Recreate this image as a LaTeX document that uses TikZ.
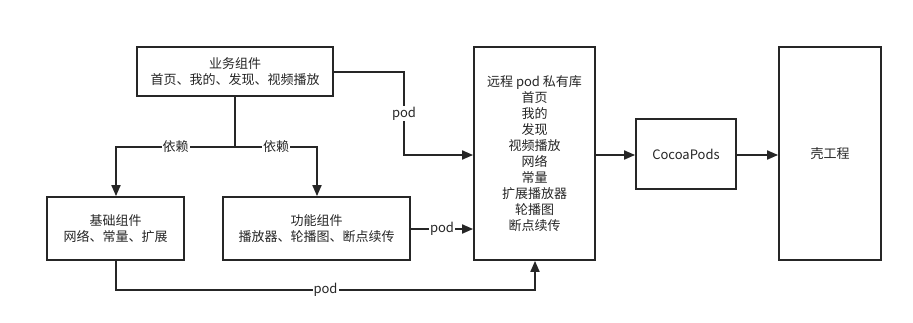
\documentclass[tikz,border=0pt]{standalone}
\usepackage{fontspec}
\setmainfont{Noto Sans CJK SC}
\usetikzlibrary{arrows.meta}
\begin{document}
\begin{tikzpicture}[x=1pt,y=-1pt,
  box/.style={draw=black!85,line width=1.8pt,fill=white,inner sep=0pt,align=center,font=\fontsize{13}{16.5}\selectfont,text=black!85},
  conn/.style={draw=black!85,line width=1.8pt},
  arr/.style={conn,-{Triangle[length=11pt,width=9pt]}},
  lbl/.style={fill=white,inner sep=1pt,font=\fontsize{13}{14}\selectfont,text=black!85}]
\useasboundingbox[fill=white] (0,0) rectangle (913,322);
\node[box,minimum width=196pt,minimum height=49pt] (biz) at (235,71.5) {业务组件\\首页、我的、发现、视频播放};
\node[box,minimum width=137pt,minimum height=63pt] (base) at (115.5,228.5) {基础组件\\网络、常量、扩展};
\node[box,minimum width=187pt,minimum height=63pt] (func) at (316.5,228.5) {功能组件\\播放器、轮播图、断点续传};
\node[box,minimum width=121pt,minimum height=213pt,font=\fontsize{13}{16}\selectfont] (repo) at (534.5,153.5) {远程 pod 私有库\\首页\\我的\\发现\\视频播放\\网络\\常量\\扩展播放器\\轮播图\\断点续传};
\node[box,minimum width=100pt,minimum height=70pt] (cocoa) at (686,154) {CocoaPods};
\node[box,minimum width=102pt,minimum height=213pt] (shell) at (830,153.5) {壳工程};
\coordinate (j) at (235,147);
\draw[conn] (biz.south) -- (j);
\draw[arr] (j) -- (116,147) node[lbl,pos=0.5] {依赖} -- (base.north -| 116,0);
\draw[arr] (j) -- (317,147) node[lbl,pos=0.5] {依赖} -- (func.north -| 317,0);
\draw[arr] (biz.east |- 0,72) -- (404,72) -- node[lbl,pos=0.5] {pod} (404,155) -- (repo.west |- 0,155);
\draw[arr] (func.east |- 0,229) -- node[lbl,pos=0.5] {pod} (repo.west |- 0,229);
\draw[arr] (base.south -| 116,0) -- (116,290) -- node[lbl,pos=0.5] {pod} (535,290) -- (repo.south -| 535,0);
\draw[arr] (repo.east |- 0,155) -- (cocoa.west |- 0,155);
\draw[arr] (cocoa.east |- 0,155) -- (shell.west |- 0,155);
\end{tikzpicture}
\end{document}
